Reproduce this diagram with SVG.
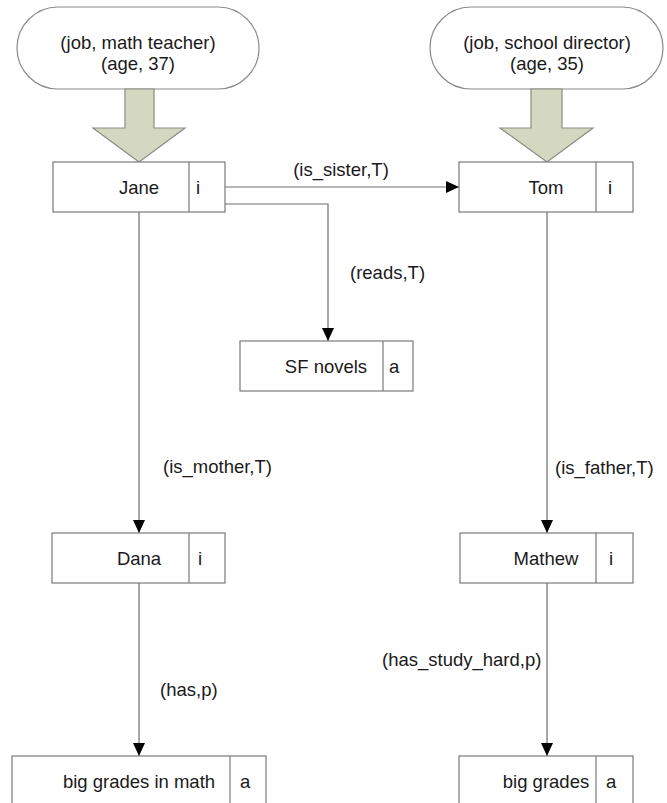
<svg xmlns="http://www.w3.org/2000/svg" width="667" height="803" viewBox="0 0 667 803">
<style>
text{font-family:"Liberation Sans",Arial,sans-serif;font-size:18.5px;fill:#1a1a1a}
.m{text-anchor:middle}
.box{fill:#fff;stroke:#7a7a7a;stroke-width:1.2}
.div{stroke:#7a7a7a;stroke-width:1.2}
.pill{fill:#fff;stroke:#8a8a8a;stroke-width:1.2}
.fat{fill:#d5d8c1;stroke:#8c8c84;stroke-width:1.2}
.c{fill:none;stroke:#6e6e6e;stroke-width:1.2}
</style>
<defs>
<marker id="ah" markerUnits="userSpaceOnUse" markerWidth="14" markerHeight="14" viewBox="0 0 14 14" refX="13" refY="7" orient="auto">
<path d="M0,1 L13,7 L0,13 Z" fill="#000"/>
</marker>
</defs>
<g id="connectors">
<path class="c" d="M225,187 H459" marker-end="url(#ah)"/>
<path class="c" d="M225,204 H328 V341" marker-end="url(#ah)"/>
<path class="c" d="M139,212 V533" marker-end="url(#ah)"/>
<path class="c" d="M547,212 V533" marker-end="url(#ah)"/>
<path class="c" d="M139,583 V756" marker-end="url(#ah)"/>
<path class="c" d="M547,583 V756" marker-end="url(#ah)"/>
<text x="341" y="176" class="m">(is_sister,T)</text>
<text x="350" y="279">(reads,T)</text>
<text x="163" y="473">(is_mother,T)</text>
<text x="555" y="474">(is_father,T)</text>
<text x="160" y="696">(has,p)</text>
<text x="382" y="666">(has_study_hard,p)</text>
</g>
<g id="attr_jane">
<rect class="pill" x="17" y="7" width="242" height="82" rx="41" ry="41"/>
<text x="138" y="49" class="m">(job, math teacher)</text>
<text x="138" y="70" class="m">(age, 37)</text>
<path class="fat" d="M125,89 H154 V128 H185 L139,162 L93,128 H125 Z"/>
</g>
<g id="attr_tom">
<rect class="pill" x="430" y="7" width="233" height="82" rx="41" ry="41"/>
<text x="547" y="49" class="m">(job, school director)</text>
<text x="547" y="70" class="m">(age, 35)</text>
<path class="fat" d="M531,89 H562 V128 H593 L547,162 L500,128 H531 Z"/>
</g>
<g id="jane">
<rect class="box" x="53" y="162" width="172" height="50"/>
<line class="div" x1="189" y1="162" x2="189" y2="212"/>
<text x="139" y="194" class="m">Jane</text>
<text x="196" y="194">i</text>
</g>
<g id="tom">
<rect class="box" x="459" y="162" width="174" height="50"/>
<line class="div" x1="596" y1="162" x2="596" y2="212"/>
<text x="546" y="194" class="m">Tom</text>
<text x="608" y="194">i</text>
</g>
<g id="sf_novels">
<rect class="box" x="240" y="341" width="173" height="50"/>
<line class="div" x1="383" y1="341" x2="383" y2="391"/>
<text x="326" y="373" class="m">SF novels</text>
<text x="389" y="373">a</text>
</g>
<g id="dana">
<rect class="box" x="52" y="533" width="173" height="50"/>
<line class="div" x1="189" y1="533" x2="189" y2="583"/>
<text x="139" y="565" class="m">Dana</text>
<text x="198" y="565">i</text>
</g>
<g id="mathew">
<rect class="box" x="460" y="533" width="173" height="50"/>
<line class="div" x1="596" y1="533" x2="596" y2="583"/>
<text x="546" y="565" class="m">Mathew</text>
<text x="609" y="565">i</text>
</g>
<g id="big_grades_math">
<rect class="box" x="12" y="756" width="254" height="52"/>
<line class="div" x1="230" y1="756" x2="230" y2="808"/>
<text x="139" y="788" class="m">big grades in math</text>
<text x="240" y="788">a</text>
</g>
<g id="big_grades">
<rect class="box" x="459" y="756" width="174" height="52"/>
<line class="div" x1="596" y1="756" x2="596" y2="808"/>
<text x="546" y="788" class="m">big grades</text>
<text x="606" y="788">a</text>
</g>
</svg>
